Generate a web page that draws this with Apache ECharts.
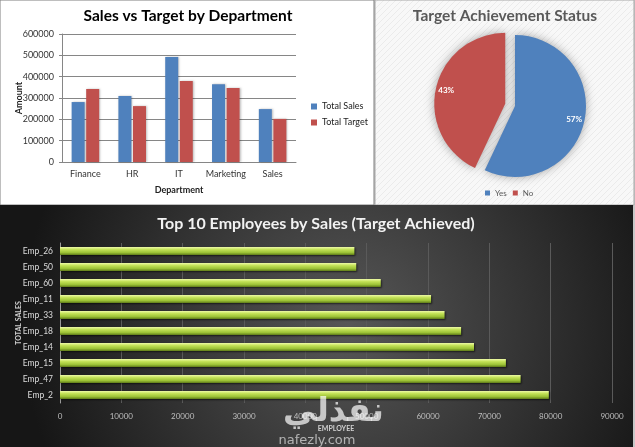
<!DOCTYPE html>
<html style="height: 100%">
   <head>
       <meta charset="utf-8">
       <title>Sales Dashboard</title>
   </head>
   <body style="height: 100%; margin: 0">
   <div id="container" style="height: 100%"></div>
   <script type="text/javascript" src="https://cdn.jsdelivr.net/npm/echarts@6/dist/echarts.min.js"></script>
   <script type="text/javascript">
            // department chart
            var departments = ['Finance', 'HR', 'IT', 'Marketing', 'Sales'];
            var totalSales = [281000, 309000, 492000, 365000, 248000];
            var totalTarget = [342000, 262000, 380000, 347000, 202000];

            // achievement pie
            var statusNames = ['Yes', 'No'];
            var statusCounts = [57, 43];

            // top 10 employees (bottom to top)
            var employees = ['Emp_2', 'Emp_47', 'Emp_15', 'Emp_14', 'Emp_18', 'Emp_33', 'Emp_11', 'Emp_60', 'Emp_50', 'Emp_26'];
            var employeeSales = [79700, 75100, 72700, 67500, 65400, 62700, 60500, 52300, 48300, 48000];

            var dom = document.getElementById("container");
            var myChart = echarts.init(dom);
            var option = null;

            var font = 'Lato, "Open Sans", sans-serif';
            var plain = function (v) { return String(v); };

            // diagonal hatch for pie panel
            var hatch = document.createElement('canvas');
            hatch.width = 6;
            hatch.height = 6;
            var hctx = hatch.getContext('2d');
            hctx.fillStyle = '#f8f8f8';
            hctx.fillRect(0, 0, 6, 6);
            hctx.strokeStyle = '#ebebeb';
            hctx.lineWidth = 1;
            hctx.beginPath();
            hctx.moveTo(0, 6); hctx.lineTo(6, 0);
            hctx.moveTo(-1, 1); hctx.lineTo(1, -1);
            hctx.moveTo(5, 7); hctx.lineTo(7, 5);
            hctx.stroke();

            // push pie labels outward along each slice's middle angle
            var total = statusCounts.reduce(function (a, b) { return a + b; }, 0);
            var labelShift = [];
            var acc = 0;
            for (var i = 0; i < statusCounts.length; i++) {
                var mid = (acc + statusCounts[i] / 2) / total * Math.PI * 2;
                labelShift.push({dx: Math.sin(mid) * 22, dy: -Math.cos(mid) * 22});
                acc += statusCounts[i];
            }

            var barGreen = new echarts.graphic.LinearGradient(0, 0, 0, 1, [
                {offset: 0, color: '#eefaa8'},
                {offset: 0.3, color: '#c5e35a'},
                {offset: 0.7, color: '#9cc236'},
                {offset: 1, color: '#5e7a18'}
            ]);

            option = {
                animation: false,
                backgroundColor: '#c8c8c8',
                textStyle: {fontFamily: font},
                graphic: [
                    {
                        type: 'rect', z: -10, silent: true,
                        shape: {x: 0, y: 0, width: 374, height: 205},
                        style: {fill: '#ffffff', stroke: '#7f7f7f', lineWidth: 1}
                    },
                    {
                        type: 'rect', z: -10, silent: true,
                        shape: {x: 375, y: 0, width: 259, height: 205},
                        style: {fill: {image: hatch, repeat: 'repeat'}, stroke: '#a6a6a6', lineWidth: 1}
                    },
                    {
                        type: 'rect', z: -10, silent: true,
                        shape: {x: 0, y: 205, width: 633, height: 242},
                        style: {
                            fill: new echarts.graphic.RadialGradient(0.55, 0.5, 1.35, [
                                {offset: 0, color: '#575757'},
                                {offset: 1, color: '#161616'}
                            ])
                        }
                    },
                    {
                        type: 'text', z: 50, silent: true,
                        x: 283, y: 396,
                        style: {
                            text: 'نفذلي', fill: 'rgba(255,255,255,0.7)',
                            font: 'bold 33px "DejaVu Sans", sans-serif'
                        }
                    },
                    {
                        type: 'text', z: 50, silent: true,
                        x: 317, y: 434,
                        style: {
                            text: 'nafezly.com', fill: 'rgba(255,255,255,0.6)',
                            align: 'center',
                            font: '13px "DejaVu Sans", sans-serif'
                        }
                    }
                ],
                title: [
                    {
                        text: 'Sales vs Target by Department',
                        left: 183, top: 3, textAlign: 'center',
                        textStyle: {fontSize: 15.5, fontWeight: 'bold', color: '#000', fontFamily: font}
                    },
                    {
                        text: 'Target Achievement Status',
                        left: 500, top: 3, textAlign: 'center',
                        textStyle: {fontSize: 15.5, fontWeight: 'bold', color: '#595959', fontFamily: font}
                    },
                    {
                        text: 'Top 10 Employees by Sales (Target Achieved)',
                        left: 311, top: 211, textAlign: 'center',
                        textStyle: {fontSize: 16, fontWeight: 'bold', color: '#f2f2f2', fontFamily: font}
                    }
                ],
                legend: [
                    {
                        data: ['Total Sales', 'Total Target'],
                        orient: 'vertical',
                        left: 311, top: 102,
                        padding: 0,
                        itemWidth: 6, itemHeight: 6, itemGap: 7,
                        icon: 'rect',
                        textStyle: {fontSize: 9, color: '#222', fontFamily: font}
                    },
                    {
                        data: statusNames,
                        left: 485, top: 189,
                        padding: 0,
                        itemWidth: 5, itemHeight: 5, itemGap: 6,
                        icon: 'rect',
                        textStyle: {fontSize: 8, color: '#595959', fontFamily: font}
                    }
                ],
                grid: [
                    {left: 62, right: 339, top: 34, bottom: 285},
                    {left: 60, right: 23, top: 243, bottom: 44}
                ],
                xAxis: [
                    {
                        gridIndex: 0,
                        type: 'category',
                        data: departments,
                        name: 'Department',
                        nameLocation: 'middle',
                        nameGap: 24,
                        nameTextStyle: {fontSize: 9, fontWeight: 'bold', color: '#222'},
                        axisLine: {lineStyle: {color: '#868686'}},
                        axisTick: {show: false},
                        axisLabel: {fontSize: 9, color: '#333', margin: 8, interval: 0}
                    },
                    {
                        gridIndex: 1,
                        type: 'value',
                        min: 0, max: 90000, interval: 10000,
                        name: 'EMPLOYEE',
                        nameLocation: 'middle',
                        nameGap: 22,
                        nameTextStyle: {fontSize: 7, fontWeight: 'bold', color: '#d0d0d0'},
                        axisLine: {show: false},
                        axisTick: {show: false},
                        splitLine: {lineStyle: {color: '#5a5a5a', width: 1}},
                        axisLabel: {fontSize: 8, color: '#bdbdbd', margin: 9, formatter: plain}
                    }
                ],
                yAxis: [
                    {
                        gridIndex: 0,
                        type: 'value',
                        min: 0, max: 600000, interval: 100000,
                        name: 'Amount',
                        nameLocation: 'middle',
                        nameGap: 38,
                        nameMoveOverlap: false,
                        nameTextStyle: {fontSize: 9, fontWeight: 'bold', color: '#222'},
                        axisLine: {show: true, lineStyle: {color: '#868686'}},
                        axisTick: {show: true, length: 3, lineStyle: {color: '#868686'}},
                        splitLine: {lineStyle: {color: '#868686'}},
                        axisLabel: {fontSize: 9, color: '#333', margin: 8, formatter: plain}
                    },
                    {
                        gridIndex: 1,
                        type: 'category',
                        data: employees,
                        name: 'TOTAL SALES',
                        nameLocation: 'middle',
                        nameGap: 38,
                        nameMoveOverlap: false,
                        nameTextStyle: {fontSize: 7, fontWeight: 'bold', color: '#d0d0d0'},
                        axisLine: {show: true, lineStyle: {color: '#9a9a9a'}},
                        axisTick: {show: false},
                        axisLabel: {fontSize: 8.5, color: '#dcdcdc', margin: 7}
                    }
                ],
                series: [
                    {
                        name: 'Total Sales',
                        type: 'bar',
                        xAxisIndex: 0, yAxisIndex: 0,
                        data: totalSales,
                        barWidth: 13,
                        barGap: '12%',
                        itemStyle: {color: '#4f81bd', shadowColor: 'rgba(0,0,0,0.25)', shadowBlur: 2, shadowOffsetX: 1}
                    },
                    {
                        name: 'Total Target',
                        type: 'bar',
                        xAxisIndex: 0, yAxisIndex: 0,
                        data: totalTarget,
                        barWidth: 13,
                        barGap: '12%',
                        itemStyle: {color: '#c0504d', shadowColor: 'rgba(0,0,0,0.25)', shadowBlur: 2, shadowOffsetX: 1}
                    },
                    {
                        name: 'Achievement',
                        type: 'pie',
                        center: [515, 106],
                        radius: 71,
                        startAngle: 90,
                        clockwise: true,
                        selectedMode: 'single',
                        selectedOffset: 10,
                        emphasis: {scale: false},
                        itemStyle: {shadowColor: 'rgba(0,0,0,0.35)', shadowBlur: 10},
                        label: {
                            position: 'inside',
                            formatter: '{d}%',
                            fontSize: 8,
                            fontWeight: 'bold',
                            color: '#ffffff'
                        },
                        labelLayout: function (params) {
                            return labelShift[params.dataIndex];
                        },
                        data: statusNames.map(function (n, k) {
                            var c = k === 0 ? '#4f81bd' : '#c0504d';
                            return {
                                name: n,
                                value: statusCounts[k],
                                selected: k === 1,
                                itemStyle: {color: c},
                                select: {itemStyle: {color: c, borderWidth: 0}}
                            };
                        })
                    },
                    {
                        name: 'Employee Sales',
                        type: 'bar',
                        xAxisIndex: 1, yAxisIndex: 1,
                        data: employeeSales,
                        barWidth: 8,
                        itemStyle: {
                            color: barGreen,
                            shadowColor: 'rgba(0,0,0,0.6)',
                            shadowBlur: 2,
                            shadowOffsetY: 1,
                            shadowOffsetX: 1
                        }
                    }
                ]
            };

            if (option && typeof option === "object") {
                myChart.setOption(option, true);
            }
   </script>
   </body>
</html>
